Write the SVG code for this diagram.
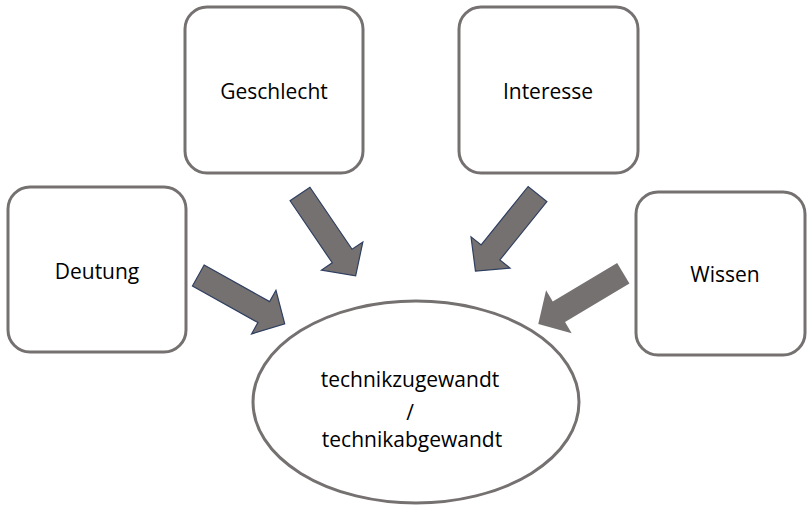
<svg xmlns="http://www.w3.org/2000/svg" width="808" height="506" viewBox="0 0 808 506">
<style>
.box{fill:#ffffff;stroke:#767171;stroke-width:3}
.lbl{font-family:"Open Sans","Liberation Sans",sans-serif;font-size:21px;fill:#000000;text-anchor:middle}
.arr{fill:#767171;stroke:#2f3f60;stroke-width:1.2;stroke-linejoin:miter}
.arr2{fill:#767171;stroke:none}
</style>
<defs>
<path id="arrow" d="M0,-12 H75 V-25 L99,0 L75,25 V12 H0 Z"/>
</defs>
<rect width="808" height="506" fill="#ffffff"/>
<g id="connectors">
<use href="#arrow" class="arr" transform="translate(300,194) rotate(55.8)"/>
<use href="#arrow" class="arr" transform="translate(537.5,194) rotate(128.8)"/>
<use href="#arrow" class="arr2" transform="translate(623.3,273.3) rotate(149.2)"/>
<use href="#arrow" class="arr" transform="translate(198.3,275.5) rotate(29.2)"/>
</g>
<g id="geschlecht">
<rect class="box" x="185" y="7" width="178" height="166" rx="22"/>
<text class="lbl" x="274" y="99">Geschlecht</text>
</g>
<g id="interesse">
<rect class="box" x="459" y="7" width="179" height="166" rx="22"/>
<text class="lbl" x="548" y="99">Interesse</text>
</g>
<g id="deutung">
<rect class="box" x="8" y="187" width="178" height="165" rx="22"/>
<text class="lbl" x="97" y="279">Deutung</text>
</g>
<g id="wissen">
<rect class="box" x="636" y="192" width="169" height="163" rx="22"/>
<text class="lbl" x="725" y="282">Wissen</text>
</g>
<g id="center">
<ellipse class="box" cx="416" cy="402" rx="163" ry="101"/>
<text class="lbl" x="410" y="387">technikzugewandt</text>
<text class="lbl" x="410" y="420">/</text>
<text class="lbl" x="412" y="447">technikabgewandt</text>
</g>
</svg>
